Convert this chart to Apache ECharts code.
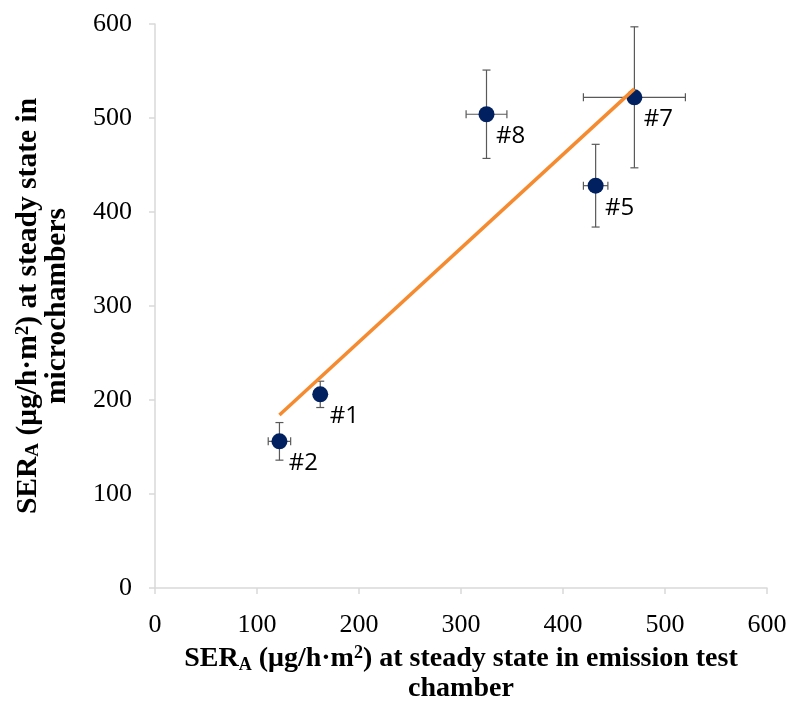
<!DOCTYPE html>
<html>
<head>
<meta charset="utf-8">
<script src="https://cdn.jsdelivr.net/npm/echarts@6/dist/echarts.min.js"></script>
<style>
  html, body { margin: 0; padding: 0; background: #fff; }
  #chart { width: 789px; height: 704px; }
</style>
</head>
<body>
<div id="chart"></div>
<script>
var sampleIds = ['#1', '#2', '#5', '#7', '#8'];
var chamberSer = [162, 122, 432, 470, 325];
var microSer = [206, 156, 428, 522, 504];
var chamberErr = [6, 11, 12, 50, 20];
var microErr = [14, 20, 44, 75, 47];
var trendX = [122, 470];
var trendY = [184, 531];
var xTicks = [0, 100, 200, 300, 400, 500, 600];
var yTicks = [0, 100, 200, 300, 400, 500, 600];

var serif = '"Liberation Serif", "DejaVu Serif", serif';
var axisGrey = '#d9d9d9';
var barGrey = '#595959';
var navy = '#002060';
var orange = '#f58a2f';

var points = sampleIds.map(function(id, i) {
  return { name: id, value: [chamberSer[i], microSer[i], chamberErr[i], microErr[i]] };
});
var trend = trendX.map(function(x, i) { return [x, trendY[i]]; });

function titleRich(size, lh) {
  var sub = Math.round(size * 0.64);
  return {
    b: { fontFamily: serif, fontWeight: 'bold', fontSize: size, color: '#000', lineHeight: lh },
    sub: { fontFamily: serif, fontWeight: 'bold', fontSize: sub, color: '#000', lineHeight: lh, verticalAlign: 'bottom' },
    sup: { fontFamily: serif, fontWeight: 'bold', fontSize: sub, color: '#000', lineHeight: lh, verticalAlign: 'top' }
  };
}

var chart = echarts.init(document.getElementById('chart'), null, { renderer: 'canvas' });
chart.setOption({
  animation: false,
  backgroundColor: '#fff',
  grid: { left: 155, right: 22, top: 24, bottom: 116, outerBoundsMode: 'none', containLabel: false },
  xAxis: {
    type: 'value', min: 0, max: 600, interval: 100,
    axisLine: { show: true, lineStyle: { color: axisGrey, width: 1.5 } },
    axisTick: { show: true, length: 6, lineStyle: { color: axisGrey, width: 1.5 } },
    splitLine: { show: false },
    axisLabel: {
      fontFamily: serif, fontSize: 26, color: '#000', margin: 24,
      formatter: function(v) { return xTicks.indexOf(v) >= 0 ? String(v) : ''; }
    },
    name: '{b|SER}{sub|A}{b| (μg/h·m}{sup|2}{b|) at steady state in emission test}\n{b|chamber}',
    nameLocation: 'middle',
    nameGap: 56,
    nameTextStyle: { rich: titleRich(28, 30), align: 'center' }
  },
  yAxis: {
    type: 'value', min: 0, max: 600, interval: 100,
    axisLine: { show: true, lineStyle: { color: axisGrey, width: 1.5 } },
    axisTick: { show: true, length: 6, lineStyle: { color: axisGrey, width: 1.5 } },
    splitLine: { show: false },
    axisLabel: {
      fontFamily: serif, fontSize: 26, color: '#000', margin: 23,
      formatter: function(v) { return yTicks.indexOf(v) >= 0 ? String(v) : ''; }
    },
    name: '{b|SER}{sub|A}{b| (μg/h·m}{sup|2}{b|) at steady state in}\n{b|microchambers}',
    nameLocation: 'middle',
    nameRotate: 90,
    nameGap: 83,
    nameTextStyle: { rich: titleRich(29.5, 29), align: 'center' }
  },
  series: [
    {
      type: 'custom',
      data: points,
      z: 1,
      renderItem: function(params, api) {
        var x = api.value(0), y = api.value(1), ex = api.value(2), ey = api.value(3);
        var l = api.coord([x - ex, y]), r = api.coord([x + ex, y]);
        var t = api.coord([x, y + ey]), b = api.coord([x, y - ey]);
        var cap = 4;
        var st = { stroke: barGrey, lineWidth: 1.2 };
        return {
          type: 'group',
          children: [
            { type: 'line', shape: { x1: l[0], y1: l[1], x2: r[0], y2: r[1] }, style: st },
            { type: 'line', shape: { x1: l[0], y1: l[1] - cap, x2: l[0], y2: l[1] + cap }, style: st },
            { type: 'line', shape: { x1: r[0], y1: r[1] - cap, x2: r[0], y2: r[1] + cap }, style: st },
            { type: 'line', shape: { x1: t[0], y1: t[1], x2: b[0], y2: b[1] }, style: st },
            { type: 'line', shape: { x1: t[0] - cap, y1: t[1], x2: t[0] + cap, y2: t[1] }, style: st },
            { type: 'line', shape: { x1: b[0] - cap, y1: b[1], x2: b[0] + cap, y2: b[1] }, style: st }
          ]
        };
      }
    },
    {
      type: 'scatter',
      data: points,
      z: 2,
      symbol: 'circle',
      symbolSize: 16,
      itemStyle: { color: navy, opacity: 1 },
      label: {
        show: true,
        position: 'inside',
        offset: [24, 22],
        fontFamily: '"Open Sans", "Noto Sans", sans-serif',
        fontSize: 24,
        color: '#000',
        formatter: function(p) { return p.name; }
      }
    },
    {
      type: 'line',
      data: trend,
      z: 3,
      symbol: 'none',
      lineStyle: { color: orange, width: 3.5 }
    }
  ]
});
window.addEventListener('resize', function() { chart.resize(); });
</script>
</body>
</html>
